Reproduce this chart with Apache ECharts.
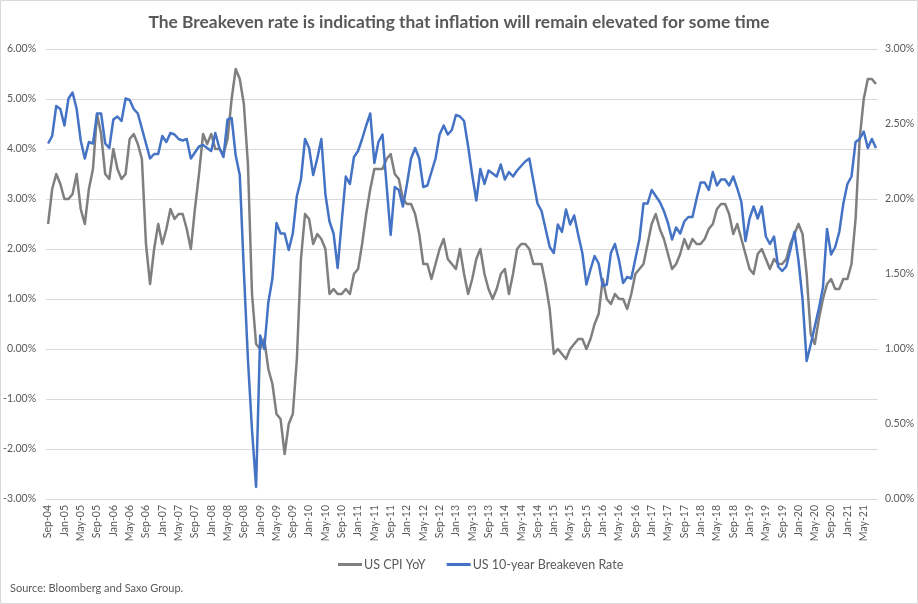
<!DOCTYPE html>
<html>
<head>
<meta charset="utf-8">
<script src="https://cdn.jsdelivr.net/npm/echarts@6/dist/echarts.min.js"></script>
<style>
html,body{margin:0;padding:0;background:#fff;}
#c{width:918px;height:604px;}
</style>
</head>
<body>
<div id="c"></div>
<script>
// ---- data ----
var startYear = 2004, startMonth = 8; // Sep-04 (0-based month)
var monthNames = ['Jan','Feb','Mar','Apr','May','Jun','Jul','Aug','Sep','Oct','Nov','Dec'];

// US CPI YoY (%), monthly Sep-04 .. Aug-21
var cpiYoY = [
 2.5,3.2,3.5,3.3,
 3.0,3.0,3.1,3.5,2.8,2.5,3.2,3.6,4.7,4.3,3.5,3.4,
 4.0,3.6,3.4,3.5,4.2,4.3,4.1,3.8,2.1,1.3,2.0,2.5,
 2.1,2.4,2.8,2.6,2.7,2.7,2.4,2.0,2.8,3.5,4.3,4.1,
 4.3,4.0,4.0,3.9,4.2,5.0,5.6,5.4,4.9,3.7,1.1,0.1,
 0.0,0.2,-0.4,-0.7,-1.3,-1.4,-2.1,-1.5,-1.3,-0.2,1.8,2.7,
 2.6,2.1,2.3,2.2,2.0,1.1,1.2,1.1,1.1,1.2,1.1,1.5,
 1.6,2.1,2.7,3.2,3.6,3.6,3.6,3.8,3.9,3.5,3.4,3.0,
 2.9,2.9,2.7,2.3,1.7,1.7,1.4,1.7,2.0,2.2,1.8,1.7,
 1.6,2.0,1.5,1.1,1.4,1.8,2.0,1.5,1.2,1.0,1.2,1.5,
 1.6,1.1,1.5,2.0,2.1,2.1,2.0,1.7,1.7,1.7,1.3,0.8,
 -0.1,0.0,-0.1,-0.2,0.0,0.1,0.2,0.2,0.0,0.2,0.5,0.7,
 1.4,1.0,0.9,1.1,1.0,1.0,0.8,1.1,1.5,1.6,1.7,2.1,
 2.5,2.7,2.4,2.2,1.9,1.6,1.7,1.9,2.2,2.0,2.2,2.1,
 2.1,2.2,2.4,2.5,2.8,2.9,2.9,2.7,2.3,2.5,2.2,1.9,
 1.6,1.5,1.9,2.0,1.8,1.6,1.8,1.7,1.7,1.8,2.1,2.3,
 2.5,2.3,1.5,0.3,0.1,0.6,1.0,1.3,1.4,1.2,1.2,1.4,
 1.4,1.7,2.6,4.2,5.0,5.4,5.4,5.3
];

// US 10-year breakeven rate (%), monthly Sep-04 .. Aug-21
var breakeven = [
 2.37,2.42,2.62,2.60,
 2.49,2.67,2.71,2.60,2.39,2.27,2.38,2.37,2.57,2.57,2.37,2.34,
 2.53,2.55,2.52,2.67,2.66,2.60,2.57,2.47,2.37,2.27,2.30,2.30,
 2.42,2.38,2.44,2.43,2.40,2.39,2.40,2.27,2.31,2.35,2.36,2.34,
 2.32,2.44,2.34,2.28,2.53,2.54,2.29,2.16,1.52,0.93,0.46,0.08,
 1.09,1.00,1.31,1.47,1.84,1.77,1.77,1.66,1.77,2.02,2.13,2.40,
 2.34,2.16,2.27,2.40,2.03,1.85,1.77,1.54,1.85,2.15,2.10,2.28,
 2.32,2.40,2.49,2.57,2.24,2.38,2.43,2.09,1.76,2.08,2.06,1.95,
 2.10,2.27,2.34,2.27,2.08,2.09,2.18,2.27,2.43,2.49,2.43,2.46,
 2.56,2.55,2.52,2.35,2.16,1.99,2.20,2.10,2.19,2.17,2.15,2.23,
 2.13,2.18,2.15,2.19,2.22,2.25,2.27,2.12,1.97,1.92,1.80,1.68,
 1.64,1.83,1.78,1.93,1.83,1.89,1.76,1.64,1.43,1.53,1.62,1.57,
 1.42,1.43,1.64,1.70,1.59,1.44,1.48,1.47,1.60,1.73,1.97,1.97,
 2.06,2.02,1.98,1.92,1.84,1.73,1.81,1.77,1.85,1.88,1.88,2.00,
 2.11,2.11,2.06,2.18,2.09,2.13,2.13,2.09,2.15,2.07,1.98,1.72,
 1.87,1.95,1.87,1.95,1.75,1.70,1.75,1.55,1.52,1.55,1.66,1.78,
 1.59,1.33,0.92,1.03,1.15,1.27,1.41,1.80,1.63,1.68,1.78,1.97,
 2.10,2.15,2.38,2.40,2.45,2.34,2.40,2.34
];

var leftTicks = {min: -3, max: 6, step: 1};
var rightTicks = {min: 0, max: 3, step: 0.5};

var titleText = 'The Breakeven rate is indicating that inflation will remain elevated for some time';
var seriesNames = ['US CPI YoY', 'US 10-year Breakeven Rate'];
var sourceText = 'Source: Bloomberg and Saxo Group.';

// category labels
var months = [];
for (var k = 0; k < cpiYoY.length; k++) {
  var m = (startMonth + k) % 12;
  var y = startYear + Math.floor((startMonth + k) / 12);
  months.push(monthNames[m] + '-' + String(y % 100).padStart(2, '0'));
}

var txt = '#595959';
var font = 'Lato, "Open Sans", sans-serif';
var chart = echarts.init(document.getElementById('c'), null, {renderer: 'canvas'});
chart.setOption({
  backgroundColor: '#fff',
  animation: false,
  title: {
    text: titleText, left: 'center', top: 9,
    textStyle: {color: txt, fontSize: 17.4, fontWeight: 'bold', fontFamily: font}
  },
  legend: {
    data: seriesNames, left: 333, top: 553,
    icon: 'rect', itemWidth: 24, itemHeight: 3, itemGap: 21,
    textStyle: {color: txt, fontSize: 12.5, fontFamily: font, padding: [0, 0, 0, -3]}
  },
  grid: {left: 42, right: 40, top: 49, bottom: 105},
  xAxis: {
    type: 'category', data: months, boundaryGap: true,
    axisLine: {lineStyle: {color: '#d9d9d9'}},
    axisTick: {show: false},
    axisLabel: {interval: 3, rotate: 90, color: txt, fontSize: 10.5, fontFamily: font, margin: 6}
  },
  yAxis: [{
    type: 'value', min: leftTicks.min, max: leftTicks.max, interval: leftTicks.step,
    axisLine: {show: false}, axisTick: {show: false},
    splitLine: {lineStyle: {color: '#d9d9d9', width: 1}},
    axisLabel: {color: txt, fontSize: 10.5, fontFamily: font, margin: 10,
      formatter: function (v) { return v.toFixed(2) + '%'; }}
  }, {
    type: 'value', min: rightTicks.min, max: rightTicks.max, interval: rightTicks.step,
    axisLine: {show: false}, axisTick: {show: false}, splitLine: {show: false},
    axisLabel: {color: txt, fontSize: 10.5, fontFamily: font, margin: 7,
      formatter: function (v) { return v.toFixed(2) + '%'; }}
  }],
  series: [{
    name: seriesNames[0], type: 'line', data: cpiYoY, yAxisIndex: 0,
    showSymbol: false, symbol: 'none', color: '#7f7f7f',
    lineStyle: {width: 2.5, color: '#7f7f7f', join: 'round'}
  }, {
    name: seriesNames[1], type: 'line', data: breakeven, yAxisIndex: 1,
    showSymbol: false, symbol: 'none', color: '#4472c4',
    lineStyle: {width: 2.5, color: '#4472c4', join: 'round'}
  }],
  graphic: [{
    type: 'rect', shape: {x: 0.5, y: 0.5, width: 917, height: 603},
    style: {fill: 'none', stroke: '#d9d9d9', lineWidth: 1}, silent: true
  }, {
    type: 'text', left: 10, top: 583,
    style: {text: sourceText, fill: txt, fontSize: 11, fontFamily: font}
  }]
});
</script>
</body>
</html>
